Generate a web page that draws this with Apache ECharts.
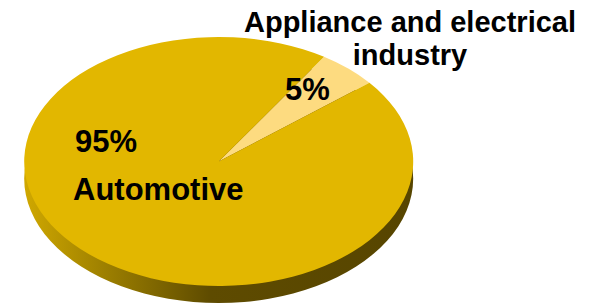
<!DOCTYPE html>
<html>
<head>
<meta charset="utf-8">
<script src="https://cdn.jsdelivr.net/npm/echarts@6/dist/echarts.min.js"></script>
<style>
html, body { margin: 0; padding: 0; background: #fff; }
#wrap { position: relative; width: 596px; height: 307px; overflow: hidden; }
/* the pie is drawn round, then squashed to look tilted */
#pie { position: absolute; left: 0; top: 0; width: 596px; height: 480px; transform: scaleY(0.64); transform-origin: 0 0; }
#labels { position: absolute; left: 0; top: 0; width: 596px; height: 307px; }
</style>
</head>
<body>
<div id="wrap">
  <div id="pie"></div>
  <div id="labels"></div>
</div>
<script>
// data
const sectors = ['Appliance and electrical\nindustry', 'Automotive'];
const shares = [5, 95];
const sliceColors = ['#fddb80', '#e2b700'];

const TILT = 0.64;
const CX = 218.7;
const CY = 161.5 / TILT;
const DEPTH = 17 / TILT;
const R = 194.5;

var pieChart = echarts.init(document.getElementById('pie'), null, { renderer: 'svg' });
var labelChart = echarts.init(document.getElementById('labels'), null, { renderer: 'svg' });

const sideColor = {
  type: 'linear', x: 0, y: 0, x2: 1, y2: 0,
  colorStops: [
    { offset: 0, color: '#d0a800' },
    { offset: 0.22, color: '#9a7d00' },
    { offset: 0.48, color: '#5e4b00' },
    { offset: 1, color: '#574500' }
  ]
};

var option = {
  animation: false,
  series: [
    {
      // side wall of the disc
      type: 'pie',
      silent: true,
      center: [CX, CY + DEPTH],
      radius: [0, R],
      label: { show: false },
      labelLine: { show: false },
      itemStyle: { color: sideColor, borderWidth: 0 },
      data: [{ value: shares.reduce((a, b) => a + b, 0), name: 'side' }]
    },
    {
      type: 'pie',
      silent: true,
      center: [CX, CY],
      radius: [0, R],
      startAngle: 57.2,
      clockwise: true,
      label: { show: false },
      labelLine: { show: false },
      itemStyle: { borderWidth: 0 },
      data: sectors.map((s, i) => ({
        name: s,
        value: shares[i],
        itemStyle: { color: sliceColors[i] }
      }))
    }
  ]
};
pieChart.setOption(option);

const FONT = 'bold {s}px "Liberation Sans", Arial, sans-serif';
function font(size) { return FONT.replace('{s}', size); }

labelChart.setOption({
  animation: false,
  graphic: [
    {
      type: 'text',
      style: {
        text: sectors[0], x: 410, y: 38.5,
        font: font(29), lineHeight: 33,
        textAlign: 'center', textVerticalAlign: 'middle', fill: '#000'
      }
    },
    {
      type: 'text',
      style: {
        text: shares[0] + '%', x: 307.5, y: 89.5,
        font: font(31), textAlign: 'center', textVerticalAlign: 'middle', fill: '#000'
      }
    },
    {
      type: 'text',
      style: {
        text: shares[1] + '%', x: 75, y: 141.5,
        font: font(31), textAlign: 'left', textVerticalAlign: 'middle', fill: '#000'
      }
    },
    {
      type: 'text',
      style: {
        text: sectors[1], x: 73, y: 189.5,
        font: font(31), textAlign: 'left', textVerticalAlign: 'middle', fill: '#000'
      }
    }
  ]
});
</script>
</body>
</html>
